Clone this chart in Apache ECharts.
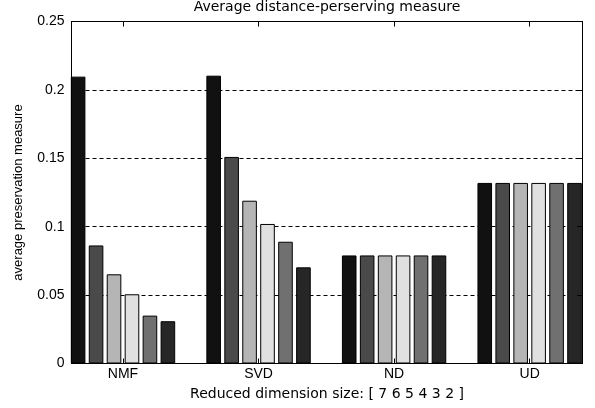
<!DOCTYPE html>
<html><head><meta charset="utf-8">
<script src="https://cdn.jsdelivr.net/npm/echarts@6/dist/echarts.min.js"></script>
<style>html,body{margin:0;padding:0;background:#fff}#c{width:595px;height:408px}</style>
</head><body><div id="c"></div>
<script>
const categories = ['NMF', 'SVD', 'ND', 'UD'];
const dimSizes = ['7', '6', '5', '4', '3', '2'];
const dim7 = [0.2097, 0.2104, 0.079, 0.132];
const dim6 = [0.0863, 0.151, 0.079, 0.132];
const dim5 = [0.0652, 0.119, 0.079, 0.132];
const dim4 = [0.0506, 0.102, 0.079, 0.132];
const dim3 = [0.035, 0.089, 0.079, 0.132];
const dim2 = [0.0309, 0.0703, 0.079, 0.132];
const yTicks = [0, 0.05, 0.1, 0.15, 0.2, 0.25];
const titleText = 'Average distance-perserving measure';
const xName = 'Reduced dimension size: [ 7 6 5 4 3 2 ]';
const yName = 'average preservation measure';

const seriesValues = [dim7, dim6, dim5, dim4, dim3, dim2];
const colors = ['#111111', '#4a4a4a', '#b5b5b5', '#e0e0e0', '#707070', '#262626'];
const catPos = categories.map((c, i) => i + 1);
const font = 'Liberation Sans, Arial, sans-serif';
const wideFont = 'DejaVu Sans, sans-serif';

const chart = echarts.init(document.getElementById('c'), null, {renderer: 'canvas'});
chart.setOption({
  backgroundColor: '#fff',
  animation: false,
  title: {
    text: titleText, left: 327, textAlign: 'center', top: 0, padding: 0,
    textStyle: {fontFamily: wideFont, fontSize: 14, fontWeight: 'normal', color: '#000'}
  },
  grid: {left: 71.5, right: 12.5, top: 21.5, bottom: 44.5},
  xAxis: [{
    type: 'value', min: 0.62, max: 4.39, position: 'bottom', z: 5,
    axisLine: {show: true, onZero: false, lineStyle: {color: '#000', width: 1}},
    axisTick: {show: true, inside: true, length: 5, customValues: catPos, lineStyle: {color: '#000'}},
    axisLabel: {show: true, customValues: catPos, margin: 4, color: '#000', fontFamily: font, fontSize: 14,
      formatter: v => categories[Math.round(v) - 1] || ''},
    splitLine: {show: false},
    name: xName, nameLocation: 'middle', nameGap: 24,
    nameTextStyle: {color: '#000', fontFamily: wideFont, fontSize: 14}
  }, {
    type: 'value', min: 0.62, max: 4.39, position: 'top', z: 5,
    axisLine: {show: true, onZero: false, lineStyle: {color: '#000', width: 1}},
    axisTick: {show: true, inside: true, length: 5, customValues: catPos, lineStyle: {color: '#000'}},
    axisLabel: {show: false},
    splitLine: {show: false}
  }],
  yAxis: [{
    type: 'value', min: 0, max: 0.25, interval: 0.05, position: 'left',
    axisLine: {show: true, lineStyle: {color: '#000', width: 1}},
    axisTick: {show: true, inside: true, length: 5, lineStyle: {color: '#000'}},
    axisLabel: {show: true, margin: 7, color: '#000', fontFamily: font, fontSize: 14,
      formatter: v => String(+v.toFixed(2))},
    splitLine: {show: true, showMinLine: false, showMaxLine: false,
      lineStyle: {color: '#000', width: 1, type: [4, 3]}},
    name: yName, nameLocation: 'middle', nameGap: 47, nameRotate: 90,
    nameTextStyle: {color: '#000', fontFamily: font, fontSize: 13}
  }, {
    type: 'value', min: 0, max: 0.25, interval: 0.05, position: 'right', z: 5,
    axisLine: {show: true, lineStyle: {color: '#000', width: 1}},
    axisTick: {show: true, inside: true, length: 5, lineStyle: {color: '#000'}},
    axisLabel: {show: false},
    splitLine: {show: false}
  }],
  series: seriesValues.map((vals, k) => ({
    name: dimSizes[k], type: 'bar', xAxisIndex: 0, yAxisIndex: 0,
    barGap: '23%', barCategoryGap: '23%',
    itemStyle: {color: colors[k], borderColor: '#000', borderWidth: 1},
    data: vals.map((v, i) => [catPos[i], v])
  }))
});
</script></body></html>
